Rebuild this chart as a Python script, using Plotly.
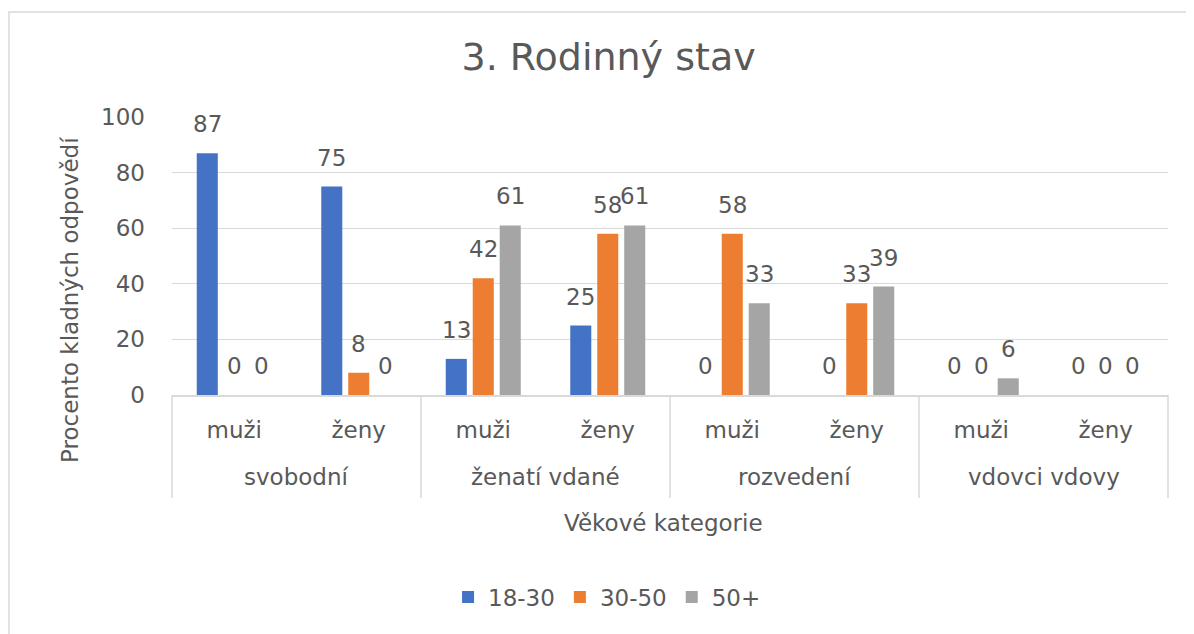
import plotly.graph_objects as go

# ---- data ----
groups = ["svobodní", "ženatí vdané", "rozvedení", "vdovci vdovy"]
sexes = ["muži", "ženy"]
series_names = ["18-30", "30-50", "50+"]
v_18_30 = [87, 75, 13, 25, 0, 0, 0, 0]
v_30_50 = [0, 8, 42, 58, 58, 33, 0, 0]
v_50plus = [0, 0, 61, 61, 33, 39, 6, 0]
y_ticks = [0, 20, 40, 60, 80, 100]

title_text = "3. Rodinný stav"
y_title = "Procento kladných odpovědí"
x_title = "Věkové kategorie"

colors = ["#4472C4", "#ED7D31", "#A5A5A5"]
txt = "#595959"
grid = "#D9D9D9"
FONT = "DejaVu Sans"

cats = [f"{g} | {s}" for g in groups for s in sexes]
subs = [s for g in groups for s in sexes]
values = [v_18_30, v_30_50, v_50plus]

BARGAP = 0.35
BARGROUPGAP = 0.22

fig = go.Figure()
for name, vals, col in zip(series_names, values, colors):
    fig.add_trace(go.Bar(x=cats, y=vals, name=name, marker_color=col,
                         marker_line_width=0, hoverinfo="x+y+name"))

# data labels above bars
n = len(values)
slot = (1 - BARGAP) / n
annotations = []
for k, vals in enumerate(values):
    for i, v in enumerate(vals):
        annotations.append(dict(
            x=i - (1 - BARGAP) / 2 + slot * (k + 0.5), y=v, xref="x", yref="y",
            text=str(v), showarrow=False, yanchor="middle", yshift=29,
            font=dict(family=FONT, size=23, color=txt)))

# group labels
for g, name in enumerate(groups):
    annotations.append(dict(
        x=2 * g + 0.5, y=0, xref="x", yref="paper", text=name, showarrow=False,
        yanchor="middle", yshift=-82, font=dict(family=FONT, size=23, color=txt)))

# axis titles
annotations.append(dict(x=0.493, y=0, xref="paper", yref="paper", text=x_title,
                        showarrow=False, yanchor="middle", yshift=-128,
                        font=dict(family=FONT, size=23, color=txt)))
annotations.append(dict(x=-0.1024, y=0.342, xref="paper", yref="paper", text=y_title,
                        showarrow=False, textangle=-90, xanchor="center", yanchor="middle",
                        font=dict(family=FONT, size=23, color=txt)))

shapes = []
# group dividers
ng = len(groups)
for g in range(ng + 1):
    shapes.append(dict(type="line", xref="paper", yref="paper", x0=g / ng, x1=g / ng,
                       y0=0, y1=-0.3705, line=dict(color=grid, width=1.5)))
# outer chart border
shapes.append(dict(type="rect", xref="paper", yref="paper", x0=-0.1637, x1=1.2,
                   y0=1.378, y1=-1.2, line=dict(color=grid, width=1.5), layer="below"))

fig.update_layout(
    width=1194, height=634,
    margin=dict(l=164, r=34, t=109, b=247),
    paper_bgcolor="white", plot_bgcolor="white",
    barmode="group", bargap=BARGAP, bargroupgap=BARGROUPGAP,
    title=dict(text=title_text, x=0.503, xanchor="center", y=0.9227, yanchor="middle",
               font=dict(family=FONT, size=38, color=txt)),
    font=dict(family=FONT, size=23, color=txt),
    xaxis=dict(type="category", tickmode="array", tickvals=cats, ticktext=subs,
               showgrid=False, showline=True, linecolor=grid, linewidth=1.5,
               ticks="", ticklabelstandoff=14,
               tickfont=dict(family=FONT, size=23, color=txt)),
    yaxis=dict(range=[0, 100], tickvals=y_ticks, showgrid=True, gridcolor=grid,
               gridwidth=1.2, zeroline=False, showline=False, ticks="",
               ticklabelstandoff=26, tickfont=dict(family=FONT, size=23, color=txt)),
    legend=dict(orientation="h", x=0.4368, xanchor="center", y=-0.727, yanchor="middle",
                font=dict(family=FONT, size=23, color=txt), itemwidth=30),
    annotations=annotations, shapes=shapes, showlegend=True,
)

fig.write_html("out.html")
